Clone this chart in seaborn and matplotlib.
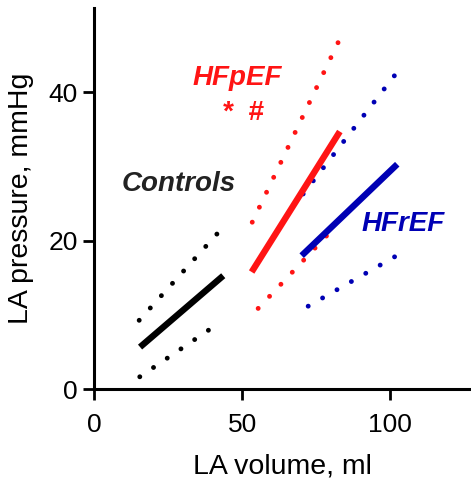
import matplotlib
matplotlib.use("Agg")
import matplotlib.pyplot as plt
import seaborn as sns
import pandas as pd

# ---- data ----
ctrl_fit_x = [15.5, 43.6]
ctrl_fit_y = [5.7, 15.3]
ctrl_hi_x = [15.2, 41.9]
ctrl_hi_y = [9.3, 21.1]
ctrl_lo_x = [15.4, 39.1]
ctrl_lo_y = [1.7, 8.1]

pef_fit_x = [53.2, 83.0]
pef_fit_y = [15.8, 34.7]
pef_hi_x = [53.4, 82.8]
pef_hi_y = [22.5, 47.0]
pef_lo_x = [55.4, 80.5]
pef_lo_y = [10.9, 21.5]

ref_fit_x = [70.1, 102.4]
ref_fit_y = [18.0, 30.3]
ref_hi_x = [70.6, 102.2]
ref_hi_y = [26.3, 42.6]
ref_lo_x = [72.3, 102.2]
ref_lo_y = [11.2, 18.0]

x_ticks = [0, 50, 100]
y_ticks = [0, 20, 40]

sns.set_style("ticks", {"axes.edgecolor": "black", "text.color": "black",
                        "xtick.color": "black", "ytick.color": "black",
                        "axes.labelcolor": "black"})
plt.rcParams['font.family'] = ['Liberation Sans', 'DejaVu Sans']

fig = plt.figure(figsize=(4.71, 4.79), dpi=100)
ax = fig.add_axes([0.200, 0.187, 0.798, 0.796])

BLACK = "#000000"
RED = "#ff1414"
BLUE = "#0000b4"

def seg(xs, ys, color, dotted):
    df = pd.DataFrame({"x": xs, "y": ys})
    if dotted:
        sns.lineplot(data=df, x="x", y="y", ax=ax, color=color, linewidth=3.5,
                     linestyle=(0, (0.01, 3.4)), dash_capstyle="round",
                     estimator=None, sort=False)
    else:
        sns.lineplot(data=df, x="x", y="y", ax=ax, color=color, linewidth=4.6,
                     solid_capstyle="butt", estimator=None, sort=False)

seg(ctrl_hi_x, ctrl_hi_y, BLACK, True)
seg(ctrl_lo_x, ctrl_lo_y, BLACK, True)
seg(ctrl_fit_x, ctrl_fit_y, BLACK, False)

seg(pef_hi_x, pef_hi_y, RED, True)
seg(pef_lo_x, pef_lo_y, RED, True)
seg(ref_hi_x, ref_hi_y, BLUE, True)
seg(ref_lo_x, ref_lo_y, BLUE, True)
seg(pef_fit_x, pef_fit_y, RED, False)
seg(ref_fit_x, ref_fit_y, BLUE, False)

tk = dict(fontsize=20, fontstyle="italic", fontweight="bold", ha="center", va="center")
ax.text(48.3, 41.9, "HFpEF", color=RED, **tk)
ax.text(50.2, 37.2, "*  #", color=RED, **tk)
ax.text(28.4, 27.7, "Controls", color="#222222", **tk)
ax.text(104.5, 22.2, "HFrEF", color=BLUE, **tk)

ax.set_xlim(0, 127)
ax.set_ylim(0, 51.3)
ax.set_xticks(x_ticks)
ax.set_yticks(y_ticks)
ax.set_xlabel("LA volume, ml", fontsize=20.5, labelpad=12, color="black")
ax.set_ylabel("LA pressure, mmHg", fontsize=20.5, labelpad=10, color="black")
ax.tick_params(axis="both", labelsize=19, width=2, length=8, direction="out",
               colors="black")
ax.tick_params(axis="x", pad=9)
ax.tick_params(axis="y", pad=4)
for s in ["top", "right"]:
    ax.spines[s].set_visible(False)
for s in ["left", "bottom"]:
    ax.spines[s].set_linewidth(2.2)
    ax.spines[s].set_color("black")

fig.savefig("out.png", dpi=100)
